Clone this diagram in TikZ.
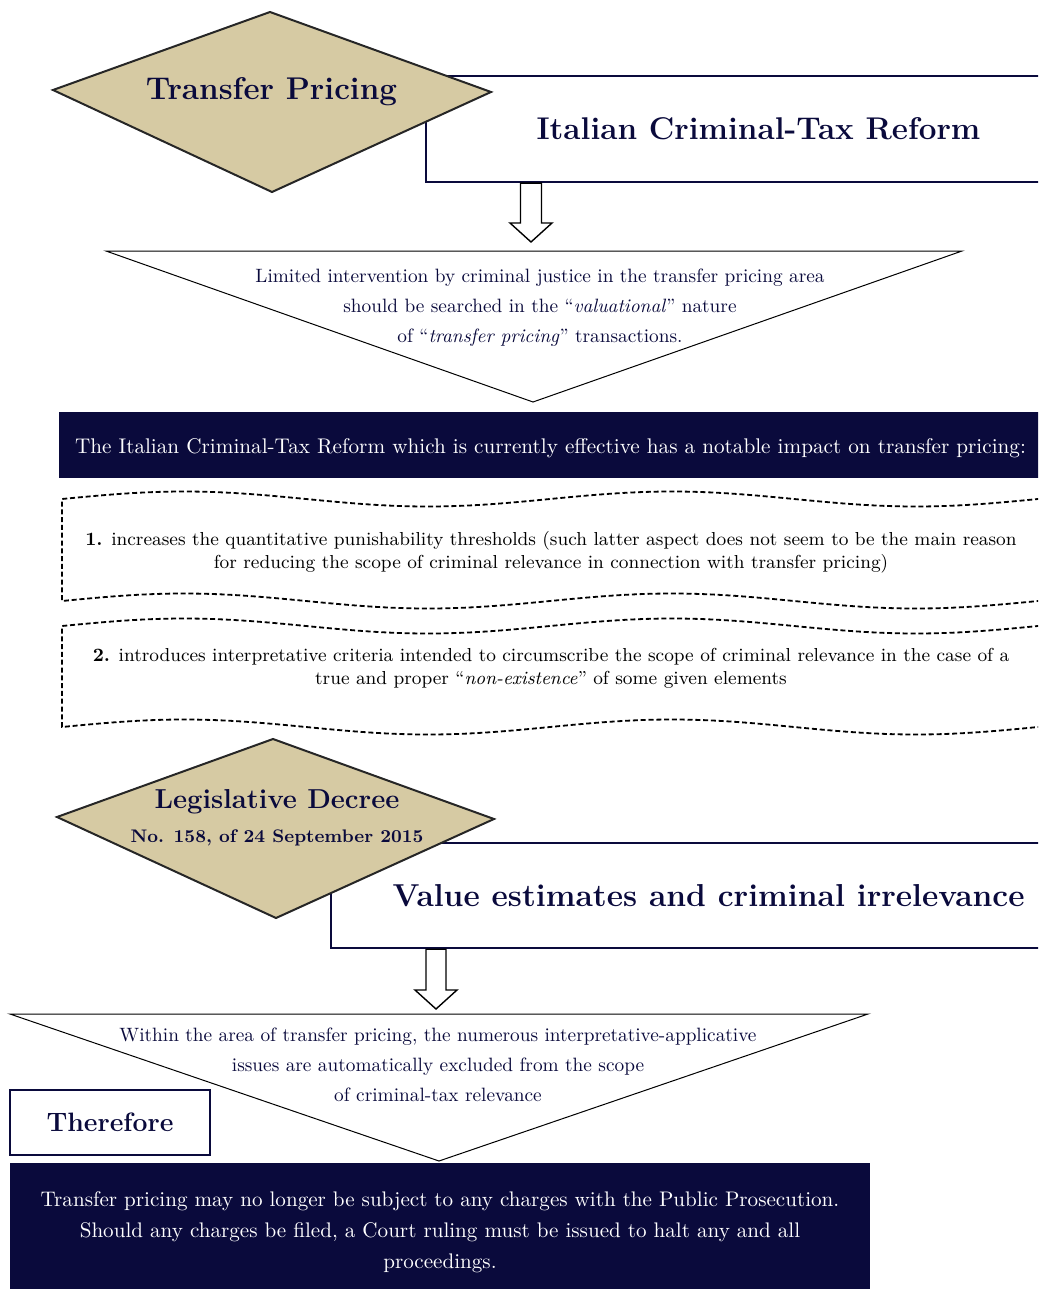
\documentclass[tikz,border=0pt]{standalone}
\usetikzlibrary{shapes.geometric, positioning, calc}
\definecolor{navycol}{HTML}{0A0A3C}
\definecolor{tancol}{HTML}{D6CAA3}

\begin{document}
\begin{tikzpicture}[x=0.5pt, y=-0.5pt,
  diamondline/.style={draw=black!85, line width=1pt, fill=tancol, line join=miter},
  titletext/.style={text=navycol, font=\bfseries, inner sep=0pt},
  headbox/.style={rectangle, draw=navycol, line width=1.2pt, fill=white, text=navycol, inner sep=0pt, align=center},
  darkbox/.style={rectangle, fill=navycol, text=white, inner sep=0pt, align=center},
  tritext/.style={text=navycol, align=center, font=\fontsize{9.65}{15}\selectfont},
  itemtext/.style={align=center, font=\fontsize{9.4}{11.5}\selectfont},
  triline/.style={draw=black, line width=0.5pt, fill=white},
  waveline/.style={draw=black, line width=0.9pt, dash pattern=on 2.5pt off 1.4pt},
  blockarrow/.style={draw=black, line width=0.7pt, fill=white}
]
\useasboundingbox (0,0) rectangle (1038,1289);
\clip (0,0) rectangle (1038,1289);

% first block
\node[headbox, minimum width=332.5pt, minimum height=53pt, font=\bfseries\fontsize{15.7}{18}\selectfont] (reform) at (758.5,129) {Italian Criminal-Tax Reform};
\draw[diamondline] (53,90) -- (270,12) -- (491,92) -- (272,192) -- cycle;
\node[titletext, font=\bfseries\fontsize{15.7}{18}\selectfont] (tp) at (271.5,92) {Transfer Pricing};

\draw[triline] (106,251) -- (962,251) -- (533,402) -- cycle;
\coordinate (tri1top) at (531,251);
\node[tritext] (limited) at (540,308) {Limited intervention by criminal justice in the transfer pricing area\\
  should be searched in the ``\textit{valuational}'' nature\\
  of ``\textit{transfer pricing}'' transactions.};

\draw[blockarrow] let \p1=(tri1top |- reform.south), \p2=($(tri1top)+(0,-9)$) in
  (\x1-5.25pt,\y1) -- (\x1-5.25pt,\y2+9.5pt) -- (\x1-10.5pt,\y2+9.5pt) -- (\x2,\y2)
  -- (\x1+10.5pt,\y2+9.5pt) -- (\x1+5.25pt,\y2+9.5pt) -- (\x1+5.25pt,\y1) -- cycle;

\node[darkbox, minimum width=491.5pt, minimum height=33pt, text height=10.4pt, text depth=2.1pt, font=\fontsize{10.6}{12}\selectfont] (impact) at (550.5,445)
  {The Italian Criminal-Tax Reform which is currently effective has a notable impact on transfer pricing:};

% wavy boxes
\draw[waveline] plot[domain=1040:62, samples=120] (\x, {499-7.5*sin((\x-62)/488*360)})
  -- plot[domain=62:1040, samples=120] (\x, {601-7.5*sin((\x-62)/488*360)});
\node[itemtext] (item1) at (551,552) {\textbf{1.} increases the quantitative punishability thresholds (such latter aspect does not seem to be the main reason\\
  for reducing the scope of criminal relevance in connection with transfer pricing)};

\draw[waveline] plot[domain=1040:62, samples=120] (\x, {626-7.5*sin((\x-62)/488*360)})
  -- plot[domain=62:1040, samples=120] (\x, {727-7.5*sin((\x-62)/488*360)});
\node[itemtext] (item2) at (551,668) {\textbf{2.} introduces interpretative criteria intended to circumscribe the scope of criminal relevance in the case of a\\
  true and proper ``\textit{non-existence}'' of some given elements};

% second block
\node[headbox, minimum width=377.5pt, minimum height=52.5pt, font=\bfseries\fontsize{15.85}{18}\selectfont] (value) at (708.5,895.5) {Value estimates and criminal irrelevance};
\draw[diamondline] (57,817) -- (273,739) -- (494,819) -- (276,918) -- cycle;
\node[titletext, font=\bfseries\fontsize{13.7}{16}\selectfont] (decree) at (277,802) {Legislative Decree};
\node[titletext, font=\bfseries\fontsize{9.1}{11}\selectfont] (decreeno) at (277,838) {No. 158, of 24 September 2015};

\draw[triline] (10,1014) -- (868,1014) -- (439,1161) -- cycle;
\coordinate (tri2top) at (436,1014);
\node[tritext] (within) at (438,1065) {Within the area of transfer pricing, the numerous interpretative-applicative\\
  issues are automatically excluded from the scope\\
  of criminal-tax relevance};

\draw[blockarrow] let \p1=(tri2top |- value.south), \p2=($(tri2top)+(0,-5)$) in
  (\x1-5pt,\y1) -- (\x1-5pt,\y2+9.5pt) -- (\x1-10.5pt,\y2+9.5pt) -- (\x2,\y2)
  -- (\x1+10.5pt,\y2+9.5pt) -- (\x1+5pt,\y2+9.5pt) -- (\x1+5pt,\y1) -- cycle;

\node[headbox, minimum width=100pt, minimum height=32.5pt, font=\bfseries\fontsize{13.3}{16}\selectfont] (therefore) at (110,1122.5) {Therefore};

\node[darkbox, minimum width=430pt, minimum height=69pt, font=\fontsize{10.55}{15.5}\selectfont] (halt) at (440,1232)
  {Transfer pricing may no longer be subject to any charges with the Public Prosecution.\\
  Should any charges be filed, a Court ruling must be issued to halt any and all\\
  proceedings.};
\end{tikzpicture}
\end{document}
